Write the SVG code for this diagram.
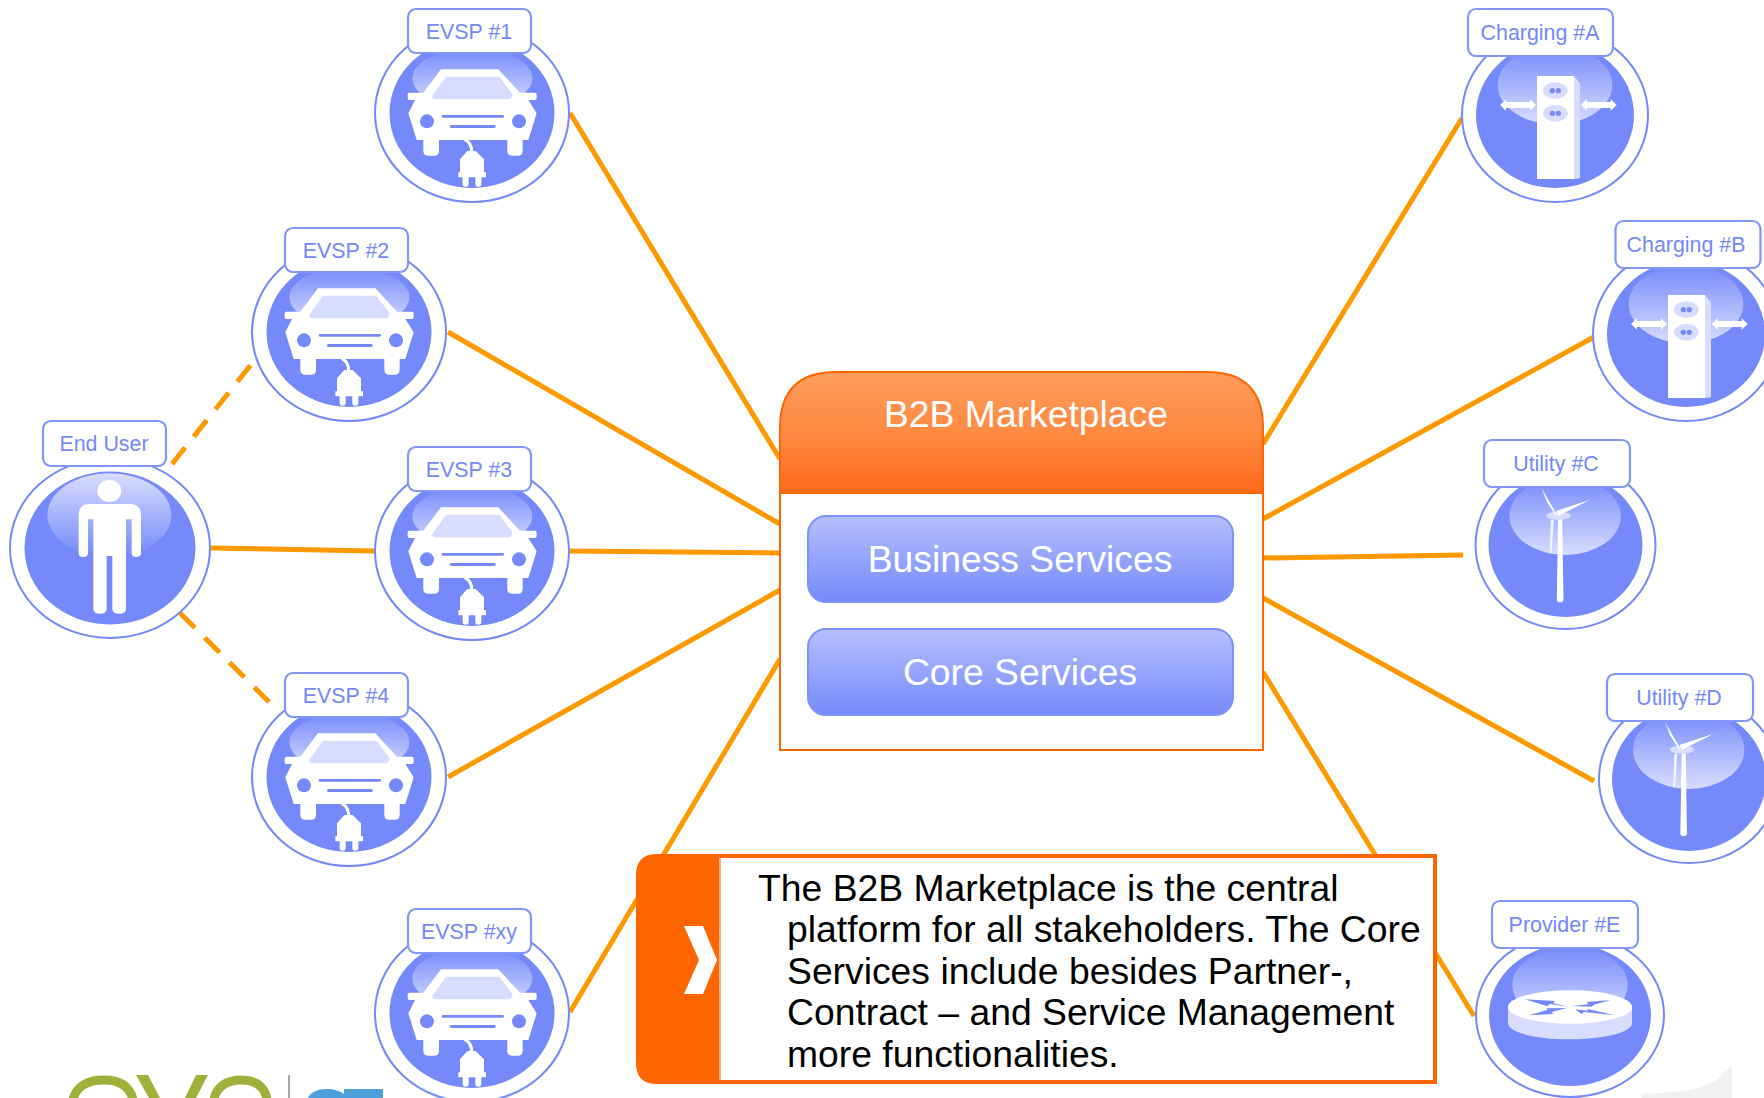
<svg xmlns="http://www.w3.org/2000/svg" width="1764" height="1098" viewBox="0 0 1764 1098">
<style>
text{font-family:"Liberation Sans",Arial,sans-serif}
.lbl{font-size:21.4px;fill:#7589fb;text-anchor:middle}
.tag{fill:#fff;stroke:#8296fb;stroke-width:2.2}
.ring{fill:#fff;stroke:#7589fb;stroke-width:2}
.disc{fill:#7589fb}
.hl{fill:url(#hl)}
.w{fill:#fff}
.lt{fill:#d8ddfe}
.bl{fill:#7589fb}
.con{stroke:#ff9900;stroke-width:5;fill:none}
.dash{stroke-dasharray:21 14}
.svc{fill:url(#svc);stroke:#7f92fb;stroke-width:2}
.big{font-size:37.3px;fill:#fff;text-anchor:middle}
.note{font-size:37.3px;fill:#000}
.lg{fill:none;stroke:#a0b03a;stroke-width:9}
</style>
<defs>
<linearGradient id="hl" x1="0" y1="0" x2="0" y2="1"><stop offset="0" stop-color="#7589fb"/><stop offset="1" stop-color="#d8ddfe"/></linearGradient>
<linearGradient id="svc" x1="0" y1="0" x2="0" y2="1"><stop offset="0" stop-color="#b6bffc"/><stop offset="1" stop-color="#7589fb"/></linearGradient>
<linearGradient id="hdr" x1="0" y1="0" x2="0" y2="1"><stop offset="0" stop-color="#ff9c5c"/><stop offset=".5" stop-color="#ff8a42"/><stop offset="1" stop-color="#ff6a1c"/></linearGradient>
<g id="car">
<ellipse class="ring" cx="472" cy="113" rx="97" ry="89"/>
<ellipse class="disc" cx="472" cy="113" rx="82.5" ry="75"/>
<g transform="translate(360,0) scale(.33333)">
<ellipse class="hl" cx="337" cy="235" rx="180" ry="90"/>
<path class="w" d="M243 208H415L480 278H525Q530 278 530 284V294Q530 300 525 300H505L530 340L505 420H488V452Q488 467 473 467H457Q442 467 442 452V420H237V452Q237 467 222 467H205Q190 467 190 452V420H170L145 340L165 300H148Q143 300 143 294V284Q143 278 148 278H190Z"/>
<path d="M314 418Q336 430 335 456" fill="none" stroke="#fff" stroke-width="9"/>
<path class="w" d="M322 453H347L372 478V517H378V532H364V552Q364 560 355 560Q346 560 346 552V532H326V552Q326 560 317 560Q308 560 308 552V532H295V517H300V478Z"/>
<path class="lt" d="M258 230H418L456 280Q460 290 450 298H228Q214 298 218 286Z"/>
<circle class="bl" cx="201" cy="364" r="21"/><circle class="bl" cx="477" cy="364" r="21"/>
<rect class="bl" x="245" y="345" width="187" height="8" rx="4"/><rect class="bl" x="270" y="375" width="137" height="9" rx="4.5"/>
</g>
</g>
<g id="charger">
<ellipse class="ring" cx="1555" cy="115" rx="93" ry="87"/>
<ellipse class="disc" cx="1555" cy="115" rx="79" ry="73"/>
<g transform="translate(1450,0) scale(.33333)">
<ellipse class="hl" cx="315" cy="255" rx="172" ry="118"/>
<path class="lt" d="M372 228L390 250V535L372 537Z"/>
<rect class="w" x="261" y="228" width="111" height="309"/>
<ellipse class="lt" cx="316" cy="272" rx="37" ry="25"/><ellipse class="lt" cx="316" cy="340" rx="37" ry="25"/>
<circle class="bl" cx="307" cy="272" r="8"/><circle class="bl" cx="325" cy="272" r="8"/><circle class="bl" cx="307" cy="340" r="8"/><circle class="bl" cx="325" cy="340" r="8"/>
<path class="w" d="M150 315L168 298V306H240V298L258 315L240 332V324H168V332ZM392 315L410 298V306H482V298L500 315L482 332V324H410V332Z"/>
</g>
</g>
<g id="wind">
<ellipse class="ring" cx="1566" cy="545" rx="90" ry="84"/>
<ellipse class="disc" cx="1566" cy="545" rx="77" ry="72"/>
<g transform="translate(1460,430) scale(.33333)">
<ellipse class="hl" cx="317" cy="258" rx="167" ry="117"/>
<path class="w" opacity=".8" d="M271 370L274 270L283 268L276 370Z"/>
<path class="w" d="M296 265H308L312 508Q312 517 302 517Q292 517 292 508Z"/>
<ellipse class="lt" cx="297" cy="257" rx="36" ry="12"/>
<path class="w" d="M287 245L292 262L262 215L246 175ZM290 243L392 209L296 258Z"/>
</g>
</g>
</defs>

<g id="connectors">
<path class="con" d="M570 113L780 459"/>
<path class="con" d="M448 332L780 524"/>
<path class="con" d="M210 548L375 551"/>
<path class="con" d="M569 551L780 553"/>
<path class="con" d="M448 777L780 590"/>
<path class="con" d="M570 1012L780 659"/>
<path class="con" d="M1462 118L1263 444"/>
<path class="con" d="M1594 337L1263 519"/>
<path class="con" d="M1463 555L1263 558"/>
<path class="con" d="M1594 781L1263 598"/>
<path class="con" d="M1474 1016L1263 672"/>
<path class="con dash" d="M172 464L253 362"/>
<path class="con dash" d="M180 613L275 708"/>
</g>

<g id="node-evsp-1"><use href="#car"/><rect class="tag" x="408" y="9" width="123" height="44" rx="8"/><text class="lbl" x="469" y="39">EVSP #1</text></g>
<g id="node-evsp-2" transform="translate(-123,219)"><use href="#car"/><rect class="tag" x="408" y="9" width="123" height="44" rx="8"/><text class="lbl" x="469" y="39">EVSP #2</text></g>
<g id="node-evsp-3" transform="translate(0,438)"><use href="#car"/><rect class="tag" x="408" y="9" width="123" height="44" rx="8"/><text class="lbl" x="469" y="39">EVSP #3</text></g>
<g id="node-evsp-4" transform="translate(-123,664)"><use href="#car"/><rect class="tag" x="408" y="9" width="123" height="44" rx="8"/><text class="lbl" x="469" y="39">EVSP #4</text></g>
<g id="node-evsp-xy" transform="translate(0,900)"><use href="#car"/><rect class="tag" x="408" y="9" width="123" height="44" rx="8"/><text class="lbl" x="469" y="39">EVSP #xy</text></g>

<g id="node-end-user">
<ellipse class="ring" cx="110" cy="548" rx="100" ry="90"/>
<ellipse class="disc" cx="110" cy="548" rx="85.500" ry="76.500"/>
<g transform="translate(0,410) scale(.33333)">
<ellipse class="hl" cx="328" cy="315" rx="186" ry="125" transform="rotate(180 328 315)"/>
<ellipse class="w" cx="328" cy="243" rx="36" ry="33"/>
<path class="w" d="M265 282H393Q423 284 423 315V428Q423 441 409 441Q395 441 395 428V328H378V596Q378 611 358 611Q337 611 337 596V438H320V596Q320 611 300 611Q280 611 280 596V328H264V428Q264 441 250 441Q236 441 236 428V315Q236 284 265 282Z"/>
</g>
<rect class="tag" x="43" y="421" width="123" height="45" rx="8"/>
<text class="lbl" x="104" y="451">End User</text>
</g>

<g id="node-charging-a"><use href="#charger"/><rect class="tag" x="1468" y="9" width="145" height="47" rx="8"/><text class="lbl" x="1540" y="40">Charging #A</text></g>
<g id="node-charging-b"><use href="#charger" transform="translate(131,219)"/><rect class="tag" x="1615.500" y="221" width="145" height="47" rx="8"/><text class="lbl" x="1686" y="252">Charging #B</text></g>
<g id="node-utility-c"><use href="#wind" transform="translate(-0.500,0)"/><rect class="tag" x="1484" y="440" width="146" height="47" rx="8"/><text class="lbl" x="1556" y="471">Utility #C</text></g>
<g id="node-utility-d"><use href="#wind" transform="translate(123,234)"/><rect class="tag" x="1607" y="674" width="146" height="47" rx="8"/><text class="lbl" x="1679" y="705">Utility #D</text></g>
<g id="node-provider-e">
<ellipse class="ring" cx="1570" cy="1015" rx="94" ry="82"/>
<ellipse class="disc" cx="1570" cy="1015" rx="81" ry="71"/>
<g transform="translate(1460,890) scale(.33333)">
<ellipse class="hl" cx="330" cy="285" rx="173" ry="115"/>
<path class="lt" d="M144 350H516V400C516 427 433 448 330 448C227 448 144 427 144 400Z"/>
<ellipse class="w" cx="330" cy="351" rx="186" ry="50"/>
<path class="bl" d="M195 328L285 333L280 340L325 350L270 342L262 349ZM452 330L380 336L385 343L335 348L395 350L402 344ZM207 376L262 360L260 355L320 354L275 366L280 372ZM465 376L380 356L385 362L345 358L365 372L372 366Z"/>
</g>
<rect class="tag" x="1492" y="901" width="146" height="47" rx="8"/>
<text class="lbl" x="1564.500" y="932">Provider #E</text>
</g>

<g id="node-b2b">
<path d="M780 493V428Q780 372 836 372H1207Q1263 372 1263 428V493Z" fill="url(#hdr)" stroke="#ff6600" stroke-width="2"/>
<rect x="780" y="493" width="483" height="257" fill="#fff" stroke="#ff6600" stroke-width="2"/>
<text class="big" x="1026" y="427">B2B Marketplace</text>
</g>
<g id="node-business"><rect class="svc" x="808" y="516" width="425" height="86" rx="18"/><text class="big" x="1020" y="572">Business Services</text></g>
<g id="node-core"><rect class="svc" x="808" y="629" width="425" height="86" rx="18"/><text class="big" x="1020" y="685">Core Services</text></g>

<g id="callout">
<path d="M657 856H720V1082H657Q638 1082 638 1063V875Q638 856 657 856Z" fill="#ff6600" stroke="#ff6600" stroke-width="4"/>
<rect x="719" y="856" width="716" height="226" fill="#fff" stroke="#ff6600" stroke-width="4"/>
<rect x="719" y="858" width="2" height="222" fill="#ffb27f"/>
<path d="M684 926H703L717 960L703 994H684L699 960Z" fill="#fff"/>
<text class="note" x="758" y="901">The B2B Marketplace is the central</text>
<text class="note" x="787" y="942">platform for all stakeholders. The Core</text>
<text class="note" x="787" y="984">Services include besides Partner-,</text>
<text class="note" x="787" y="1025">Contract – and Service Management</text>
<text class="note" x="787" y="1067">more functionalities.</text>
</g>

<g id="logo-fragment">
<path class="lg" d="M73 1100C76 1086 88 1080 104 1080C120 1080 130 1086 133 1100"/>
<path d="M136 1075H148L160 1098H149ZM208 1075H196L185 1098H196Z" fill="#a0b03a"/>
<path class="lg" d="M214 1100C216 1086 228 1080 241 1080C255 1080 265 1086 267 1100"/>
<rect x="288" y="1075" width="2" height="23" fill="#a8a8a8"/>
<path d="M308 1098C311 1092 318 1089 326 1089C334 1089 340 1091 344 1094V1089H383V1098Z" fill="#4f9fdc"/>
</g>
<path id="corner-smear" d="M1641 1094C1680 1092 1712 1090 1722 1074L1732 1067V1098H1641Z" fill="#f1f1f1"/>
</svg>
